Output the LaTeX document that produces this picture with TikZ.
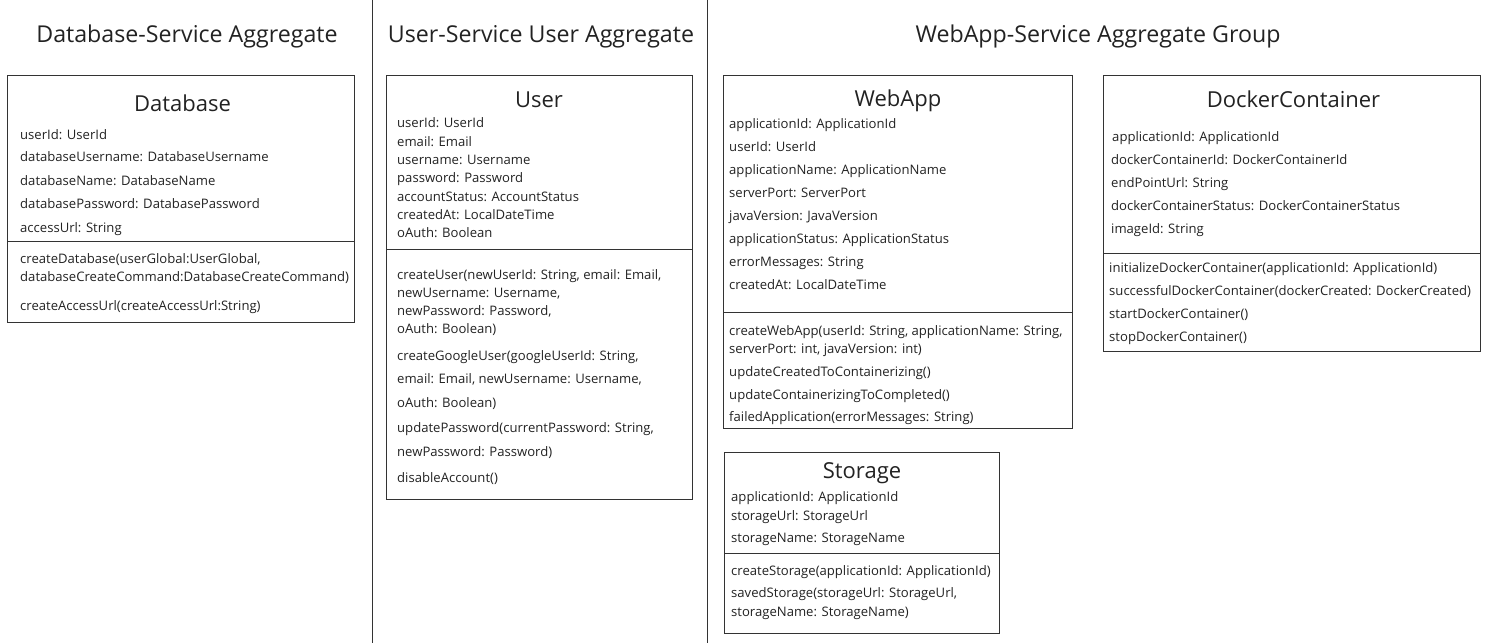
\documentclass[tikz,border=0pt]{standalone}
\usepackage{fontspec}
\setmainfont{Open Sans}
\definecolor{frame}{HTML}{333333}
\definecolor{txt}{HTML}{222222}
\tikzset{
  attr/.style={anchor=base west, inner sep=0pt, text=txt, font=\fontsize{13.1}{15}\selectfont},
  classname/.style={anchor=base, inner sep=0pt, text=txt, font=\fontsize{22}{26}\selectfont},
  grouptitle/.style={anchor=base, inner sep=0pt, text=txt, font=\fontsize{23.2}{27}\selectfont},
  classbox/.style={draw=frame, line width=0.9pt, anchor=north west, inner sep=0pt},
  divider/.style={draw=frame, line width=0.9pt}
}
\begin{document}
\begin{tikzpicture}[x=1pt, y=-1pt]
\useasboundingbox (0,0) rectangle (1495,643);

% aggregate separators
\coordinate (s1top) at (372,0);
\coordinate (s1bot) at (372,643);
\coordinate (s2top) at (707,0);
\coordinate (s2bot) at (707,643);
\draw [divider] (s1top) -- (s1bot);
\draw [divider] (s2top) -- (s2bot);

\node (t1) [grouptitle] at (187,42) {Database-Service Aggregate};
\node (t2) [grouptitle] at (541,42) {User-Service User Aggregate};
\node (t3) [grouptitle] at (1098,42) {WebApp-Service Aggregate Group};

% Database
\node (db) [classbox, minimum width=347pt, minimum height=247pt] at (7,75) {};
\node (dbname) [classname] at (182.5,111) {Database};
\node (db1) [attr] at (20,139.5) {userId: UserId};
\node (db2) [attr] at (20,161.5) {databaseUsername: DatabaseUsername};
\node (db3) [attr] at (20,185.5) {databaseName: DatabaseName};
\node (db4) [attr] at (20,208.5) {databasePassword: DatabasePassword};
\node (db5) [attr] at (20,232.5) {accessUrl: String};
\draw [divider] (db.west |- 0,241) -- (db.east |- 0,241);
\node (db6) [attr] at (20,263.5) {createDatabase(userGlobal:UserGlobal,};
\node (db7) [attr] at (20,281.5) {databaseCreateCommand:DatabaseCreateCommand)};
\node (db8) [attr] at (20,310.5) {createAccessUrl(createAccessUrl:String)};

% User
\node (us) [classbox, minimum width=306pt, minimum height=424pt] at (386,75) {};
\node (usname) [classname] at (539,107) {User};
\node (us1) [attr] at (397,127.5) {userId: UserId};
\node (us2) [attr] at (397,146.5) {email: Email};
\node (us3) [attr] at (397,164.5) {username: Username};
\node (us4) [attr] at (397,182.5) {password: Password};
\node (us5) [attr] at (397,201.5) {accountStatus: AccountStatus};
\node (us6) [attr] at (397,219.5) {createdAt: LocalDateTime};
\node (us7) [attr] at (397,237.5) {oAuth: Boolean};
\draw [divider] (us.west |- 0,249) -- (us.east |- 0,249);
\node (us8) [attr] at (397,279.5) {createUser(newUserId: String, email: Email,};
\node (us9) [attr] at (397,297.5) {newUsername: Username,};
\node (us10) [attr] at (397,315.5) {newPassword: Password,};
\node (us11) [attr] at (397,333.5) {oAuth: Boolean)};
\node (us12) [attr] at (397,360.5) {createGoogleUser(googleUserId: String,};
\node (us13) [attr] at (397,383.5) {email: Email, newUsername: Username,};
\node (us14) [attr] at (397,407.5) {oAuth: Boolean)};
\node (us15) [attr] at (397,432.5) {updatePassword(currentPassword: String,};
\node (us16) [attr] at (397,456.5) {newPassword: Password)};
\node (us17) [attr] at (397,482.5) {disableAccount()};

% WebApp
\node (wa) [classbox, minimum width=349pt, minimum height=353pt] at (723,75) {};
\node (waname) [classname] at (898,106) {WebApp};
\node (wa1) [attr] at (729,128.5) {applicationId: ApplicationId};
\node (wa2) [attr] at (729,151.5) {userId: UserId};
\node (wa3) [attr] at (729,174.5) {applicationName: ApplicationName};
\node (wa4) [attr] at (729,197.5) {serverPort: ServerPort};
\node (wa5) [attr] at (729,220.5) {javaVersion: JavaVersion};
\node (wa6) [attr] at (729,243.5) {applicationStatus: ApplicationStatus};
\node (wa7) [attr] at (729,266.5) {errorMessages: String};
\node (wa8) [attr] at (729,289.5) {createdAt: LocalDateTime};
\draw [divider] (wa.west |- 0,312) -- (wa.east |- 0,312);
\node (wa9) [attr] at (729,335.5) {createWebApp(userId: String, applicationName: String,};
\node (wa10) [attr] at (729,353.5) {serverPort: int, javaVersion: int)};
\node (wa11) [attr] at (729,376.5) {updateCreatedToContainerizing()};
\node (wa12) [attr] at (729,399.5) {updateContainerizingToCompleted()};
\node (wa13) [attr] at (729,421.5) {failedApplication(errorMessages: String)};

% Storage
\node (st) [classbox, minimum width=275pt, minimum height=181pt] at (724,452) {};
\node (stname) [classname] at (862,478) {Storage};
\node (st1) [attr] at (731,501.5) {applicationId: ApplicationId};
\node (st2) [attr] at (731,520.5) {storageUrl: StorageUrl};
\node (st3) [attr] at (731,542.5) {storageName: StorageName};
\draw [divider] (st.west |- 0,553) -- (st.east |- 0,553);
\node (st4) [attr] at (731,575.5) {createStorage(applicationId: ApplicationId)};
\node (st5) [attr] at (731,597.5) {savedStorage(storageUrl: StorageUrl,};
\node (st6) [attr] at (731,616.5) {storageName: StorageName)};

% DockerContainer
\node (dc) [classbox, minimum width=377pt, minimum height=276pt] at (1103,75) {};
\node (dcname) [classname] at (1293.5,107.5) {DockerContainer};
\node (dc1) [attr] at (1112,141.5) {applicationId: ApplicationId};
\node (dc2) [attr] at (1111,164.5) {dockerContainerId: DockerContainerId};
\node (dc3) [attr] at (1111,187.5) {endPointUrl: String};
\node (dc4) [attr] at (1111,210.5) {dockerContainerStatus: DockerContainerStatus};
\node (dc5) [attr] at (1111,233.5) {imageId: String};
\draw [divider] (dc.west |- 0,253) -- (dc.east |- 0,253);
\node (dc6) [attr] at (1109,272.5) {initializeDockerContainer(applicationId: ApplicationId)};
\node (dc7) [attr] at (1109,295.5) {successfulDockerContainer(dockerCreated: DockerCreated)};
\node (dc8) [attr] at (1109,318.5) {startDockerContainer()};
\node (dc9) [attr] at (1109,341.5) {stopDockerContainer()};
\end{tikzpicture}
\end{document}
